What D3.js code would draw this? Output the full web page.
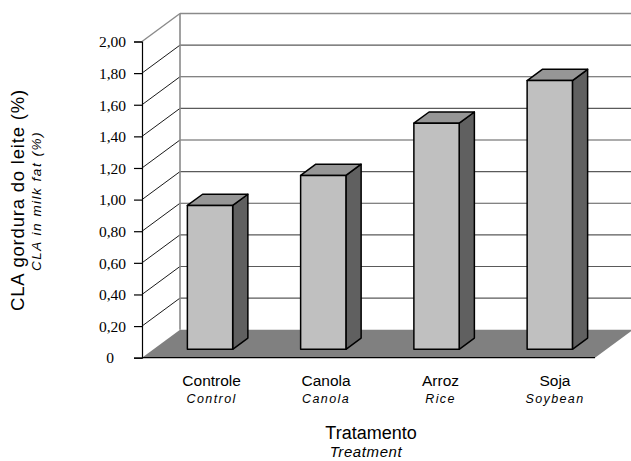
<!DOCTYPE html>
<html>
<head>
<meta charset="utf-8">
<script src="https://cdnjs.cloudflare.com/ajax/libs/d3/7.8.5/d3.min.js"></script>
<style>
  html, body { margin: 0; padding: 0; background: #fff; }
  svg { display: block; }
</style>
</head>
<body>
<svg id="chart" width="631" height="461"></svg>
<script>
// CLA content of milk fat by treatment
const categories = ["Controle", "Canola", "Arroz", "Soja"];
const categoriesEn = ["Control", "Canola", "Rice", "Soybean"];
const claValues = [0.91, 1.10, 1.43, 1.70];
const tickValues = [0, 0.2, 0.4, 0.6, 0.8, 1.0, 1.2, 1.4, 1.6, 1.8, 2.0];

(function () {
const svg = d3.select("#chart");

// front plane of the 3D box
const plotLeft = 142, plotRight = 595, plotBottom = 357.7, plotTop = 41.5;
// depth offset of the back wall
const depthX = 38, depthY = -28;
// bars sit between these fractions of the depth
const zFront = 0.3, zBack = 0.7;

const y = d3.scaleLinear().domain([0, 2]).range([plotBottom, plotTop]);
const x = d3.scaleBand().domain(categories).range([plotLeft, plotRight])
  .paddingInner(0.6).paddingOuter(0.3);

const fmt = v => v === 0 ? "0" : d3.format(".2f")(v).replace(".", ",");
const pts = arr => arr.map(p => p.join(",")).join(" ");

// floor
svg.append("polygon")
  .attr("points", pts([
    [plotLeft, plotBottom], [plotRight, plotBottom],
    [plotRight + depthX, plotBottom + depthY], [plotLeft + depthX, plotBottom + depthY]
  ]))
  .attr("fill", "#808080");

// back wall gridlines
const grid = svg.append("g");
grid.selectAll("line.back")
  .data(tickValues.filter(v => v > 0))
  .join("line")
  .attr("x1", plotLeft + depthX).attr("x2", 640)
  .attr("y1", d => y(d) + depthY).attr("y2", d => y(d) + depthY)
  .attr("stroke", d => d === 2 ? "#8a8a8a" : "#5a5a5a")
  .attr("stroke-width", d => d === 2 ? 1.6 : 1.1);

// left wall diagonals
grid.selectAll("line.side")
  .data(tickValues.filter(v => v > 0))
  .join("line")
  .attr("x1", plotLeft).attr("y1", d => y(d))
  .attr("x2", plotLeft + depthX).attr("y2", d => y(d) + depthY)
  .attr("stroke", d => d === 2 ? "#8a8a8a" : "#000")
  .attr("stroke-width", d => d === 2 ? 1.4 : 0.9);

// back wall left edge
svg.append("line")
  .attr("x1", plotLeft + depthX).attr("x2", plotLeft + depthX)
  .attr("y1", y(2) + depthY).attr("y2", plotBottom + depthY)
  .attr("stroke", "#8a8a8a").attr("stroke-width", 1.6);

// bars
const bars = svg.append("g")
  .attr("stroke", "#000").attr("stroke-width", 1.5).attr("stroke-linejoin", "round");
const bw = x.bandwidth();
categories.forEach((c, i) => {
  const v = claValues[i];
  const x0 = x(c) + zFront * depthX;
  const y0 = y(0) + zFront * depthY;
  const yt = y(v) + zFront * depthY;
  const ddx = (zBack - zFront) * depthX;
  const ddy = (zBack - zFront) * depthY;
  // side face
  bars.append("polygon")
    .attr("points", pts([[x0 + bw, y0], [x0 + bw + ddx, y0 + ddy], [x0 + bw + ddx, yt + ddy], [x0 + bw, yt]]))
    .attr("fill", "#606060");
  // top face
  bars.append("polygon")
    .attr("points", pts([[x0, yt], [x0 + ddx, yt + ddy], [x0 + bw + ddx, yt + ddy], [x0 + bw, yt]]))
    .attr("fill", "#969696");
  // front face
  bars.append("rect")
    .attr("x", x0).attr("y", yt).attr("width", bw).attr("height", y0 - yt)
    .attr("fill", "#c0c0c0");
});

// front floor edge
svg.append("line")
  .attr("x1", plotLeft).attr("x2", plotRight).attr("y1", plotBottom).attr("y2", plotBottom)
  .attr("stroke", "#000").attr("stroke-width", 1.2);

// value axis
const axis = svg.append("g").attr("transform", `translate(${plotLeft},0)`)
  .call(d3.axisLeft(y).tickValues(tickValues).tickFormat(fmt).tickSizeOuter(0).tickSize(8).tickPadding(8));
axis.select(".domain").attr("stroke", "#000").attr("stroke-width", 1.2);
axis.selectAll(".tick line").attr("stroke", "#000").attr("stroke-width", 1.2);
axis.selectAll(".tick text")
  .attr("font-family", "'Liberation Serif', 'Times New Roman', serif")
  .attr("font-size", 15.5).attr("fill", "#000")
  .attr("dy", "0.34em")
  .filter(d => d === 0)
  .attr("text-anchor", "middle").attr("x", -32);

// category labels
const labels = svg.append("g").attr("font-family", "'Liberation Sans', Arial, sans-serif").attr("fill", "#000");
categories.forEach((c, i) => {
  const cx = x(c) + bw / 2 + 0.5 * depthX - 6 + i * 1.2;
  labels.append("text").attr("x", cx).attr("y", 386)
    .attr("text-anchor", "middle").attr("font-size", 15.5).text(c);
  labels.append("text").attr("x", cx).attr("y", 403)
    .attr("text-anchor", "middle").attr("font-size", 12.5).attr("font-style", "italic")
    .attr("letter-spacing", 1.4).text(categoriesEn[i]);
});

// axis titles
labels.append("text").attr("x", 371).attr("y", 439)
  .attr("text-anchor", "middle").attr("font-size", 18).text("Tratamento");
labels.append("text").attr("x", 366).attr("y", 457)
  .attr("text-anchor", "middle").attr("font-size", 15).attr("font-style", "italic")
  .attr("letter-spacing", 0.6).text("Treatment");

labels.append("text").attr("transform", "translate(24,200) rotate(-90)")
  .attr("text-anchor", "middle").attr("font-size", 18.5).attr("letter-spacing", 0.8)
  .text("CLA gordura do leite (%)");
labels.append("text").attr("transform", "translate(41,201) rotate(-90)")
  .attr("text-anchor", "middle").attr("font-size", 13.5).attr("font-style", "italic")
  .attr("letter-spacing", 1.5).text("CLA in milk fat (%)");
})();
</script>
</body>
</html>
